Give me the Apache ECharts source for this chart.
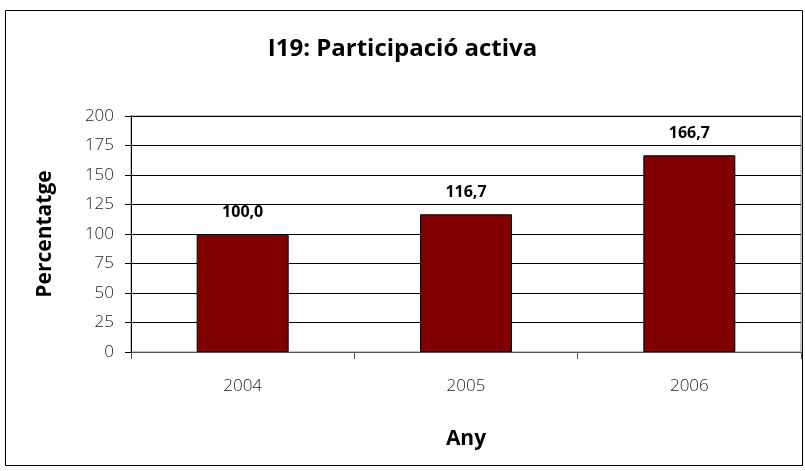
<!DOCTYPE html>
<html>
<head>
<meta charset="utf-8">
<script src="https://cdn.jsdelivr.net/npm/echarts@6/dist/echarts.min.js"></script>
<style>
html, body { margin: 0; padding: 0; background: #fff; }
#main { width: 805px; height: 471px; }
</style>
</head>
<body>
<div id="main"></div>
<script>
var anys = ['2004', '2005', '2006'];
var valors = [100.0, 116.7, 166.7];

var chart = echarts.init(document.getElementById('main'));

var option = {
    animation: false,
    backgroundColor: '#fff',
    textStyle: { fontFamily: 'Open Sans' },
    title: {
        text: 'I19: Participació activa',
        left: 'center',
        top: 32,
        textStyle: { fontSize: 24, fontWeight: 'bold', color: '#000', fontFamily: 'Open Sans' }
    },
    graphic: [{
        type: 'rect',
        shape: { x: 5.5, y: 10.5, width: 797, height: 455 },
        style: { fill: 'none', stroke: '#000', lineWidth: 1 },
        z: -1
    }],
    grid: {
        left: 131,
        top: 116,
        right: 4,
        bottom: 119,
        show: true,
        borderColor: '#888',
        borderWidth: 1
    },
    xAxis: {
        type: 'category',
        data: anys,
        name: 'Any',
        nameLocation: 'middle',
        nameGap: 77,
        nameTextStyle: { fontSize: 21, fontWeight: 'bold', color: '#000' },
        axisLine: { lineStyle: { color: '#555' } },
        axisTick: { show: true, length: 7, lineStyle: { color: '#555' } },
        axisLabel: { fontSize: 17, color: '#222', margin: 26, fontWeight: 300 }
    },
    yAxis: {
        type: 'value',
        min: 0,
        max: 200,
        interval: 25,
        name: 'Percentatge',
        nameLocation: 'middle',
        nameGap: 75,
        nameTextStyle: { fontSize: 21, fontWeight: 'bold', color: '#000' },
        axisLine: { show: true, lineStyle: { color: '#000' } },
        axisTick: { show: true, length: 6, lineStyle: { color: '#000' } },
        axisLabel: { fontSize: 17, color: '#222', margin: 17, fontWeight: 300 },
        splitLine: { lineStyle: { color: '#000', width: 1 } }
    },
    series: [{
        type: 'bar',
        data: valors,
        barWidth: 92,
        itemStyle: { color: '#800000', borderColor: '#000', borderWidth: 1 },
        label: {
            show: true,
            position: 'top',
            distance: 14,
            fontSize: 16,
            fontWeight: 'bold',
            color: '#000',
            formatter: function (p) { return p.value.toFixed(1).replace('.', ','); }
        }
    }]
};

chart.setOption(option);
</script>
</body>
</html>
